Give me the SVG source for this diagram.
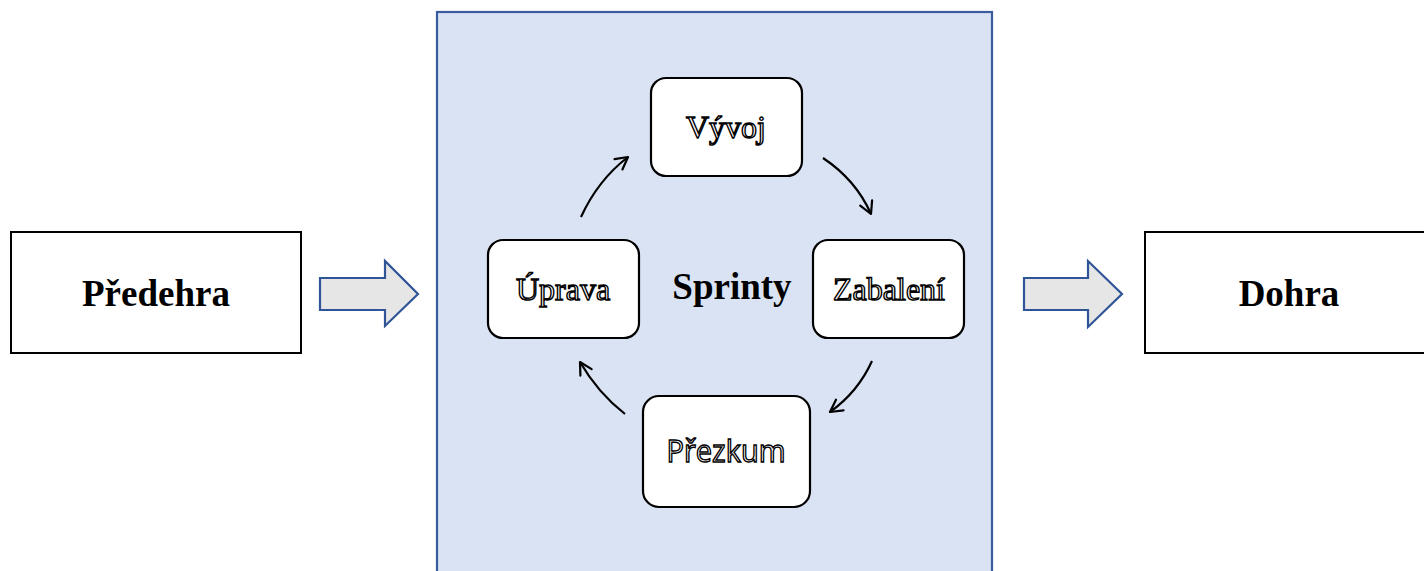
<svg xmlns="http://www.w3.org/2000/svg" width="1424" height="571" viewBox="0 0 1424 571">
  <style>
    .phase { fill: #ffffff; stroke: #000000; stroke-width: 2; }
    .phase-label { font-family: "Liberation Serif", serif; font-weight: bold; font-size: 37px; fill: #000000; text-anchor: middle; }
    .step { fill: #ffffff; stroke: #000000; stroke-width: 2.2; }
    .step-label { font-family: "Liberation Serif", serif; font-size: 32px; fill: #ffffff; stroke: #000000; stroke-width: 1.4; text-anchor: middle; }
    .step-label-sans { font-family: "Open Sans", "Liberation Sans", sans-serif; font-size: 31px; fill: #ffffff; stroke: #000000; stroke-width: 1.4; text-anchor: middle; }
    .block-arrow { fill: #e7e6e6; stroke: #2f5597; stroke-width: 2.2; stroke-linejoin: miter; }
    .cycle { fill: none; stroke: #000000; stroke-width: 2.2; marker-end: url(#open-head); }
  </style>
  <defs>
    <marker id="open-head" viewBox="0 0 16 16" refX="14" refY="8" markerWidth="16" markerHeight="16" markerUnits="userSpaceOnUse" orient="auto">
      <path d="M2,1.5 L14,8 L2,14.5" fill="none" stroke="#000000" stroke-width="2.2" stroke-linecap="round" stroke-linejoin="round"/>
    </marker>
  </defs>

  <rect width="1424" height="571" fill="#ffffff"/>

  <!-- Sprint container -->
  <g id="sprinty">
    <rect x="437" y="12" width="555" height="575" fill="#dae3f3" stroke="#3a5c9c" stroke-width="2.2"/>
    <text x="732" y="299" class="phase-label" font-size="38">Sprinty</text>
  </g>

  <!-- Phases outside the sprint -->
  <g id="predehra">
    <rect x="11" y="232" width="290" height="121" class="phase"/>
    <text x="156" y="306" class="phase-label">Předehra</text>
  </g>
  <g id="dohra">
    <rect x="1145" y="232" width="290" height="121" class="phase"/>
    <text x="1289" y="306" class="phase-label">Dohra</text>
  </g>

  <!-- Sprint steps -->
  <g id="vyvoj">
    <rect x="651" y="78" width="151" height="98" rx="15" class="step"/>
    <text x="726" y="138" class="step-label">Vývoj</text>
  </g>
  <g id="zabaleni">
    <rect x="813" y="240" width="151" height="98" rx="15" class="step"/>
    <text x="889" y="300" class="step-label" font-size="31">Zabalení</text>
  </g>
  <g id="prezkum">
    <rect x="643" y="396" width="167" height="111" rx="16" class="step"/>
    <text x="726" y="462" class="step-label-sans" textLength="119" lengthAdjust="spacingAndGlyphs">Přezkum</text>
  </g>
  <g id="uprava">
    <rect x="488" y="240" width="151" height="98" rx="15" class="step"/>
    <text x="563" y="300" class="step-label" font-size="33">Úprava</text>
  </g>

  <!-- Connectors -->
  <g id="connectors">
    <path class="block-arrow" d="M320,278 L385,278 L385,261 L418,294 L385,326 L385,310 L320,310 Z"/>
    <path class="block-arrow" d="M1024,278 L1088,278 L1088,261 L1122,294 L1088,327 L1088,310 L1024,310 Z"/>
    <path class="cycle" d="M823,158 Q856,180 871,214"/>
    <path class="cycle" d="M872,361 Q858,392 830,412"/>
    <path class="cycle" d="M625,414 Q598,393 580,362"/>
    <path class="cycle" d="M581,217 Q598,180 628,157"/>
  </g>
</svg>
